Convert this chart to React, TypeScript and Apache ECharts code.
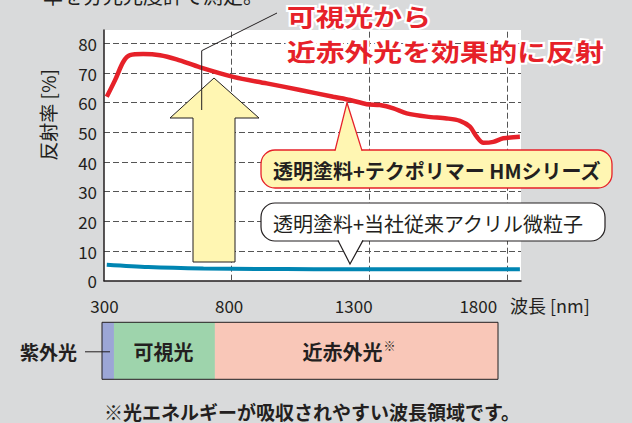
import { useEffect, useRef } from 'react';
import * as echarts from 'echarts';

// ---- data ----
const hmWavelength = [350, 380, 410, 434, 482, 543, 603, 688, 808, 929, 1050, 1170, 1231, 1291, 1339, 1388, 1436, 1509, 1581, 1629, 1665, 1690, 1714, 1750, 1786, 1846];
const hmReflectance = [62, 67.6, 73.8, 76, 76.4, 76, 74.6, 71.9, 68.7, 66.5, 64.3, 62, 60.9, 59.5, 59.2, 58.1, 56.4, 55.3, 54.7, 53.9, 51.9, 48.5, 46.5, 46.8, 48, 48.5];
const acrylicWavelength = [350, 500, 700, 900, 1100, 1300, 1500, 1700, 1846];
const acrylicReflectance = [5.4, 4.6, 4.1, 3.95, 3.9, 3.85, 3.85, 3.85, 3.85];
const xTickLabels = [300, 800, 1300, 1800];
const xGridValues = [800, 1300, 1800];
const bandNames = ['紫外光', '可視光', '近赤外光'];
const bandStart = [290, 338, 743];
const bandEnd = [338, 743, 1879];
const bandColors = ['#9ca6d6', '#9ed4ac', '#f9c7b8'];

const FONT = "'Noto Sans CJK JP', 'Noto Sans', sans-serif";
const INK = '#231f20';
const RED = '#e62129';
const YELLOW = '#fff6b2';

export default function App() {
  const ref = useRef<HTMLDivElement>(null);
  useEffect(() => {
    if (!ref.current) return;
    const chart = echarts.init(ref.current, null, { renderer: 'svg' });
    const option: any = {
      animation: false,
      backgroundColor: '#d9dadb',
      grid: [
        { left: 104, right: 111, top: 30, bottom: 142.3, show: true, backgroundColor: '#ffffff', borderWidth: 0 },
        { left: 102, width: 396, top: 322.3, height: 57, show: false },
      ],
      xAxis: [
        {
          type: 'value', gridIndex: 0, min: 340, max: 1850,
          axisLine: { show: true, lineStyle: { color: INK, width: 1.5 } },
          axisTick: { show: false }, axisLabel: { show: false }, splitLine: { show: false },
        },
        {
          type: 'value', gridIndex: 1, min: 290, max: 1879, position: 'top',
          axisLine: { show: false }, axisTick: { show: false }, splitLine: { show: false },
          axisLabel: {
            customValues: xTickLabels, fontSize: 17, color: INK, fontFamily: FONT, margin: 8,
            formatter: (v: number) => String(v),
          },
        },
      ],
      yAxis: [
        {
          type: 'value', gridIndex: 0, min: 0, max: 84.5, interval: 10,
          axisLine: { show: true, lineStyle: { color: INK, width: 1.5 } },
          axisTick: { show: false },
          axisLabel: { fontSize: 17, color: INK, fontFamily: FONT, margin: 7, showMaxLabel: false },
          splitLine: { show: true, showMaxLine: false, showMinLine: false, lineStyle: { color: '#555', type: [6, 3], width: 1 } },
        },
        { type: 'value', gridIndex: 1, min: 0, max: 1, show: false },
      ],
      series: [
        {
          type: 'line', xAxisIndex: 0, yAxisIndex: 0, silent: true,
          data: acrylicWavelength.map((x, i) => [x, acrylicReflectance[i]]),
          showSymbol: false, smooth: 0.3, z: 3,
          lineStyle: { color: '#0085b2', width: 4 },
          markLine: {
            silent: true, z: 1, symbol: ['none', 'none'],
            label: { show: false },
            lineStyle: { color: '#555', type: [6, 3], width: 1 },
            data: xGridValues.map((v) => ({ xAxis: v })),
          },
        },
        {
          type: 'line', xAxisIndex: 0, yAxisIndex: 0, silent: true,
          data: hmWavelength.map((x, i) => [x, hmReflectance[i]]),
          showSymbol: false, smooth: 0.3, z: 4,
          lineStyle: { color: RED, width: 4.5 },
        },
        {
          type: 'custom', xAxisIndex: 1, yAxisIndex: 1, silent: true,
          data: bandStart.map((s, i) => [s, bandEnd[i]]),
          encode: { x: [0, 1] },
          renderItem: (params: any, api: any) => {
            const i = params.dataIndex;
            const s = api.coord([api.value(0), 1]);
            const e = api.coord([api.value(1), 0]);
            const cy = (s[1] + e[1]) / 2;
            const children: any[] = [
              { type: 'rect', shape: { x: s[0], y: s[1], width: e[0] - s[0], height: e[1] - s[1] }, style: { fill: bandColors[i] } },
            ];
            const txt = (text: string, x: number, y: number, size: number, align: string) => ({
              type: 'text', x, y,
              style: { text, fill: INK, fontSize: size, fontFamily: FONT, fontWeight: 'bold', align, verticalAlign: 'middle' },
            });
            if (i === 0) {
              children.push({ type: 'line', shape: { x1: s[0] - 17, y1: cy + 1, x2: s[0] + 8, y2: cy + 1 }, style: { stroke: INK, lineWidth: 1 } });
              children.push(txt(bandNames[i], s[0] - 25, cy + 1, 19, 'right'));
            } else if (i === 1) {
              children.push(txt(bandNames[i], (s[0] + e[0]) / 2 - 1, cy + 1, 20, 'center'));
            } else {
              const cx = (s[0] + e[0]) / 2 - 14;
              children.push(txt(bandNames[i], cx, cy + 1, 20, 'center'));
              children.push({
                type: 'text', x: cx + 41, y: cy - 5,
                style: { text: '※', fill: INK, fontSize: 12, fontFamily: FONT, align: 'left', verticalAlign: 'middle' },
              });
            }
            if (i === bandStart.length - 1) {
              const s0 = api.coord([bandStart[0], 1]);
              const eN = api.coord([bandEnd[bandEnd.length - 1], 0]);
              children.push({
                type: 'rect', shape: { x: s0[0], y: s0[1], width: eN[0] - s0[0], height: eN[1] - s0[1] },
                style: { fill: null, stroke: INK, lineWidth: 1 },
              });
            }
            return { type: 'group', children };
          },
        },
      ],
      graphic: {
        elements: [
          {
            type: 'text', x: 43, y: 5, z: 50,
            style: { text: '率を分光光度計で測定。', fontSize: 20, fill: INK, fontFamily: FONT, verticalAlign: 'bottom' },
          },
          {
            type: 'polygon', z: 50,
            shape: { points: [[214, 78], [259, 118], [235, 118], [235, 262], [193, 262], [193, 118], [170, 118]] },
            style: { fill: YELLOW, stroke: INK, lineWidth: 1 },
          },
          {
            type: 'polyline', z: 51,
            shape: { points: [[201.7, 110], [201.7, 50.7], [277, 13]] },
            style: { stroke: INK, lineWidth: 1, fill: null },
          },
          {
            type: 'text', x: 287, y: 15.5, scaleX: 1.2, z: 52,
            style: {
              text: '可視光から', fontSize: 24, fontWeight: 'bold', fontFamily: FONT, fill: RED,
              stroke: '#ffffff', lineWidth: 4, verticalAlign: 'middle', align: 'left',
            },
          },
          {
            type: 'text', x: 287, y: 51, scaleX: 1.2, z: 52,
            style: {
              text: '近赤外光を効果的に反射', fontSize: 24, fontWeight: 'bold', fontFamily: FONT, fill: RED,
              stroke: '#ffffff', lineWidth: 4, verticalAlign: 'middle', align: 'left',
            },
          },
          // HM series bubble
          {
            type: 'rect', z: 50,
            shape: { x: 261, y: 150, width: 351, height: 38, r: 14 },
            style: { fill: YELLOW, stroke: RED, lineWidth: 1.3 },
          },
          { type: 'polygon', z: 51, shape: { points: [[335, 152], [347, 102.7], [362, 152]] }, style: { fill: YELLOW } },
          {
            type: 'polyline', z: 51,
            shape: { points: [[335, 150.6], [347, 102.7], [362, 150.6]] },
            style: { stroke: RED, lineWidth: 1.3, fill: null },
          },
          {
            type: 'text', x: 273, y: 170, z: 52,
            style: { text: '透明塗料+テクポリマー HMシリーズ', fontSize: 20, fontWeight: 'bold', fontFamily: FONT, fill: INK, verticalAlign: 'middle' },
          },
          // conventional bubble
          {
            type: 'rect', z: 50,
            shape: { x: 261, y: 203, width: 344, height: 38, r: 14 },
            style: { fill: '#ffffff', stroke: INK, lineWidth: 1.2 },
          },
          { type: 'polygon', z: 51, shape: { points: [[338, 239], [350, 264], [363, 239]] }, style: { fill: '#ffffff' } },
          {
            type: 'polyline', z: 51,
            shape: { points: [[338, 240.4], [350, 264], [363, 240.4]] },
            style: { stroke: INK, lineWidth: 1.2, fill: null },
          },
          {
            type: 'text', x: 273, y: 223, z: 52,
            style: { text: '透明塗料+当社従来アクリル微粒子', fontSize: 20, fontFamily: FONT, fill: INK, verticalAlign: 'middle' },
          },
          // axis names
          {
            type: 'text', x: 47, y: 115, rotation: Math.PI / 2, z: 50,
            style: { text: '反射率 [%]', fontSize: 19, fontFamily: FONT, fill: INK, align: 'center', verticalAlign: 'middle' },
          },
          {
            type: 'text', x: 510, y: 305, z: 50,
            style: { text: '波長 [nm]', fontSize: 18, fontFamily: FONT, fill: INK, align: 'left', verticalAlign: 'middle' },
          },
          // footnote
          {
            type: 'text', x: 312, y: 411, z: 50,
            style: { text: '※光エネルギーが吸収されやすい波長領域です。', fontSize: 19, fontWeight: 'bold', fontFamily: FONT, fill: INK, align: 'center', verticalAlign: 'middle' },
          },
        ],
      },
    };
    chart.setOption(option);
    return () => chart.dispose();
  }, []);
  return (
    <div
      ref={ref}
      style={{ position: 'fixed', left: 0, top: 0, width: 632, height: 423, background: '#d9dadb' }}
    />
  );
}
